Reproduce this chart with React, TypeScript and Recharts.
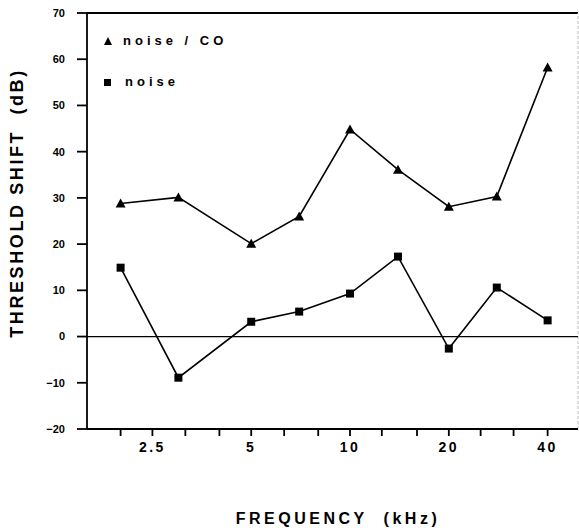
import React from "react";
import { Line, LineChart, ReferenceLine, XAxis, YAxis } from "recharts";

const freqs = [2, 3, 5, 7, 10, 14, 20, 28, 40];
const noiseCO = [28.8, 30.1, 20.1, 26, 44.8, 36.1, 28.1, 30.3, 58.2];
const noise = [14.9, -8.9, 3.2, 5.4, 9.3, 17.3, -2.6, 10.6, 3.5];

const xTicks = [2, 2.5, 3.15, 4, 5, 6.3, 8, 10, 12.5, 16, 20, 25, 31.5, 40];
const xLabels = [2.5, 5, 10, 20, 40];
const yTicks = [-20, -10, 0, 10, 20, 30, 40, 50, 60, 70];

const data = freqs.map((f, i) => ({ f, noiseCO: noiseCO[i], noise: noise[i] }));

const FONT = "'Liberation Sans', Arial, sans-serif";

function Triangle(props: any) {
  const { cx, cy } = props;
  if (cx == null || cy == null) return null;
  return <path d={`M${cx},${cy - 5} L${cx + 5},${cy + 4} L${cx - 5},${cy + 4} Z`} fill="#000" />;
}

function Square(props: any) {
  const { cx, cy } = props;
  if (cx == null || cy == null) return null;
  return <rect x={cx - 4} y={cy - 4} width={8} height={8} fill="#000" />;
}

export default function App() {
  return (
    <div style={{ position: "absolute", left: 0, top: 0, width: 579, height: 528, background: "#fff", fontFamily: FONT }}>
      <LineChart width={579} height={528} data={data} margin={{ top: 13, right: 1, left: 0, bottom: 0 }}>
        <XAxis
          dataKey="f"
          type="number"
          scale="log"
          domain={[1.58, 49.5]}
          ticks={xTicks}
          allowDataOverflow
          height={99}
          tickSize={7}
          tickMargin={6}
          stroke="#000"
          strokeWidth={1.8}
          tick={{ fill: "#000", fontSize: 14, fontWeight: 700, letterSpacing: 2.5, fontFamily: FONT }}
          tickFormatter={(v: number) => (xLabels.includes(v) ? String(v) : "")}
          label={{
            content: () => (
              <text x={338} y={524} textAnchor="middle" fontSize={16} fontWeight={700} letterSpacing={3.5} fontFamily={FONT} fill="#000">
                {"FREQUENCY\u00a0\u00a0(kHz)"}
              </text>
            ),
          }}
        />
        <YAxis
          type="number"
          domain={[-20, 70]}
          ticks={yTicks}
          width={87}
          tickSize={10}
          tickMargin={12}
          stroke="#000"
          strokeWidth={1.8}
          tick={{ fill: "#000", fontSize: 11, fontWeight: 700, fontFamily: FONT }}
          tickFormatter={(v: number) => (v < 0 ? `\u2212${-v}` : String(v))}
          label={{
            content: () => (
              <text
                x={23}
                y={203}
                transform="rotate(-90 23 203)"
                textAnchor="middle"
                fontSize={18}
                fontWeight={700}
                letterSpacing={2.6}
                fontFamily={FONT}
                fill="#000"
              >
                {"THRESHOLD SHIFT\u00a0\u00a0(dB)"}
              </text>
            ),
          }}
        />
        <ReferenceLine y={70} stroke="#000" strokeWidth={1.8} />
        <ReferenceLine x={49.5} stroke="#bbb" strokeWidth={1} strokeDasharray="3 2" />
        <ReferenceLine y={0} stroke="#000" strokeWidth={1.2} />
        <Line
          dataKey="noiseCO"
          stroke="#000"
          strokeWidth={1.6}
          dot={<Triangle />}
          activeDot={false}
          isAnimationActive={false}
        />
        <Line
          dataKey="noise"
          stroke="#000"
          strokeWidth={1.6}
          dot={<Square />}
          activeDot={false}
          isAnimationActive={false}
        />
      </LineChart>
      <div style={{ position: "absolute", left: 103, top: 32, fontSize: 13, fontWeight: 700, letterSpacing: 4, lineHeight: "17px" }}>
        <div style={{ display: "flex", alignItems: "center" }}>
          <svg width={12} height={10} style={{ marginRight: 8 }}>
            <path d="M5,1 L9,9 L1,9 Z" fill="#000" />
          </svg>
          noise / CO
        </div>
        <div style={{ display: "flex", alignItems: "center", marginTop: 24 }}>
          <svg width={12} height={10} style={{ marginRight: 10 }}>
            <rect x={1} y={2} width={7} height={7} fill="#000" />
          </svg>
          noise
        </div>
      </div>
    </div>
  );
}
